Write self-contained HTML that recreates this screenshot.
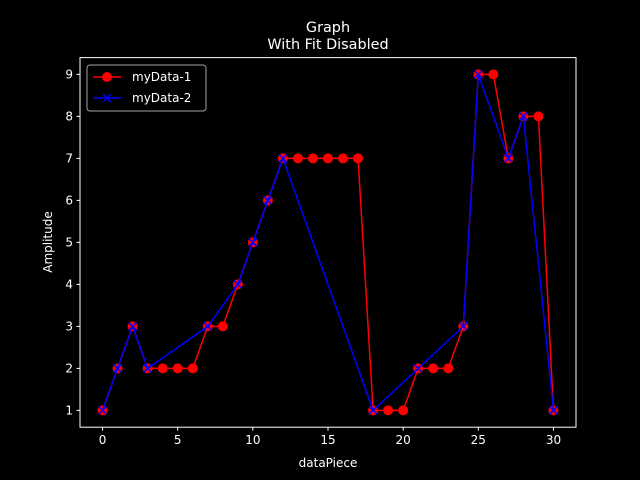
<!DOCTYPE html>
<html><head><meta charset="utf-8"><style>
body{margin:0;background:#000;}
svg{display:block;font-family:"DejaVu Sans","Liberation Sans",sans-serif;}
</style></head><body>
<svg id="chart" width="640" height="480" viewBox="0 0 640 480" xmlns="http://www.w3.org/2000/svg">
<rect width="640" height="480" fill="#000"/>
<text x="328" y="32" fill="#fff" font-size="14.4" text-anchor="middle">Graph</text>
<text x="328" y="49" fill="#fff" font-size="14.4" text-anchor="middle">With Fit Disabled</text>
<g id="plot"></g>
<text x="328" y="467" fill="#fff" font-size="12" text-anchor="middle">dataPiece</text>
<text transform="translate(52,242) rotate(-90)" fill="#fff" font-size="12" text-anchor="middle">Amplitude</text>
</svg>
<script>
const xs1=[0,1,2,3,4,5,6,7,8,9,10,11,12,13,14,15,16,17,18,19,20,21,22,23,24,25,26,27,28,29,30];
const ys1=[1,2,3,2,2,2,2,3,3,4,5,6,7,7,7,7,7,7,1,1,1,2,2,2,3,9,9,7,8,8,1];
const xs2=[0,1,2,3,7,9,10,11,12,18,21,24,25,27,28,30];
const ys2=[1,2,3,2,3,4,5,6,7,1,2,3,9,7,8,1];
const xTicks=[0,5,10,15,20,25,30];
const yTicks=[1,2,3,4,5,6,7,8,9];
const L=80,R=576,T=57.6,B=427.2,x0=-1.5,x1=31.5,y0=0.6,y1=9.4;
const sx=v=>L+(v-x0)/(x1-x0)*(R-L);
const sy=v=>B-(v-y0)/(y1-y0)*(B-T);
const NS="http://www.w3.org/2000/svg";
const g=document.getElementById('plot');
function mk(t,a){const e=document.createElementNS(NS,t);for(const k in a)e.setAttribute(k,a[k]);g.appendChild(e);return e;}
let e=mk('rect',{x:L,y:T,width:R-L,height:B-T,fill:'none',stroke:'#fff','stroke-width':1});


xTicks.forEach(v=>{
 let t=mk('line',{x1:sx(v),x2:sx(v),y1:B,y2:B+3.5,stroke:'#fff'});
 
 
 let l=mk('text',{x:sx(v),y:B+17,fill:'#fff','font-size':12,'text-anchor':'middle'});l.textContent=v;
 
 
});
yTicks.forEach(v=>{
 let t=mk('line',{x1:L-3.5,x2:L,y1:sy(v),y2:sy(v),stroke:'#fff'});
 
 
 let l=mk('text',{x:L-7,y:sy(v)+4.3,fill:'#fff','font-size':12,'text-anchor':'end'});l.textContent=v;
 
 
});
let p1=mk('polyline',{points:xs1.map((x,i)=>sx(x)+','+sy(ys1[i])).join(' '),fill:'none',stroke:'#ff0000','stroke-width':1.5});


xs1.forEach((x,i)=>{let c=mk('circle',{cx:sx(x),cy:sy(ys1[i]),r:5,fill:'#ff0000'});
 
 });
let p2=mk('polyline',{points:xs2.map((x,i)=>sx(x)+','+sy(ys2[i])).join(' '),fill:'none',stroke:'#0000ff','stroke-width':1.5});


xs2.forEach((x,i)=>{const cx=sx(x),cy=sy(ys2[i]);
 let m=mk('path',{d:`M${cx-4},${cy-4}L${cx+4},${cy+4}M${cx-4},${cy+4}L${cx+4},${cy-4}`,stroke:'#0000ff','stroke-width':1.5});
 
 });
// legend
let lg=mk('rect',{x:87,y:65,width:119,height:46,rx:3,fill:'#000',stroke:'#ccc','stroke-opacity':0.8});


let a=mk('line',{x1:93,x2:121,y1:77,y2:77,stroke:'#ff0000','stroke-width':1.5});


let ac=mk('circle',{cx:107,cy:77,r:5,fill:'#ff0000'});


let at=mk('text',{x:132,y:81,fill:'#fff','font-size':12});at.textContent='myData-1';


let b=mk('line',{x1:93,x2:121,y1:98,y2:98,stroke:'#0000ff','stroke-width':1.5});


let bm=mk('path',{d:'M103,94L111,102M103,102L111,94',stroke:'#0000ff','stroke-width':1.5});


let bt=mk('text',{x:132,y:102,fill:'#fff','font-size':12});bt.textContent='myData-2';


</script>
</body></html>
